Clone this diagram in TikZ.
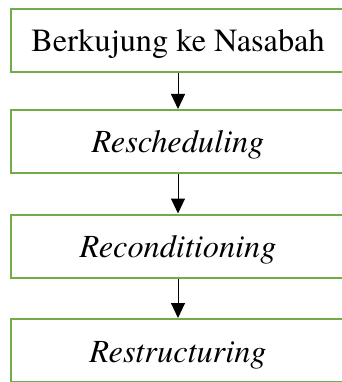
\documentclass[tikz,border=0pt]{standalone}
\usepackage{fontspec}
\newfontfamily\boxserif{texgyretermes}[Extension=.otf, UprightFont=*-regular, ItalicFont=*-italic]
\usetikzlibrary{arrows.meta}
\definecolor{boxgreen}{HTML}{70AD47}
\begin{document}
\begin{tikzpicture}[x=1pt,y=-1pt,
  stepbox/.style={draw=boxgreen, line width=2pt, rectangle, minimum width=335pt,
    minimum height=63pt, inner sep=0pt, font=\boxserif\fontsize{32.3}{36}\selectfont,
    text height=23pt, text depth=0pt, anchor=center},
  flow/.style={draw=black, line width=1pt, -{Triangle[width=14pt,length=15pt]}}]
\useasboundingbox (0,0) rectangle (341,382);
\node[stepbox] (b1) at (178,40.5) {Berkujung ke Nasabah};
\node[stepbox] (b2) at (178,141.5) {\itshape Rescheduling};
\node[stepbox] (b3) at (178,246) {\itshape Reconditioning};
\node[stepbox] (b4) at (178,350.5) {\itshape Restructuring};
\draw[flow] (b1.south) -- (b2.north);
\draw[flow] (b2.south) -- (b3.north);
\draw[flow] (b3.south) -- (b4.north);
\end{tikzpicture}
\end{document}
